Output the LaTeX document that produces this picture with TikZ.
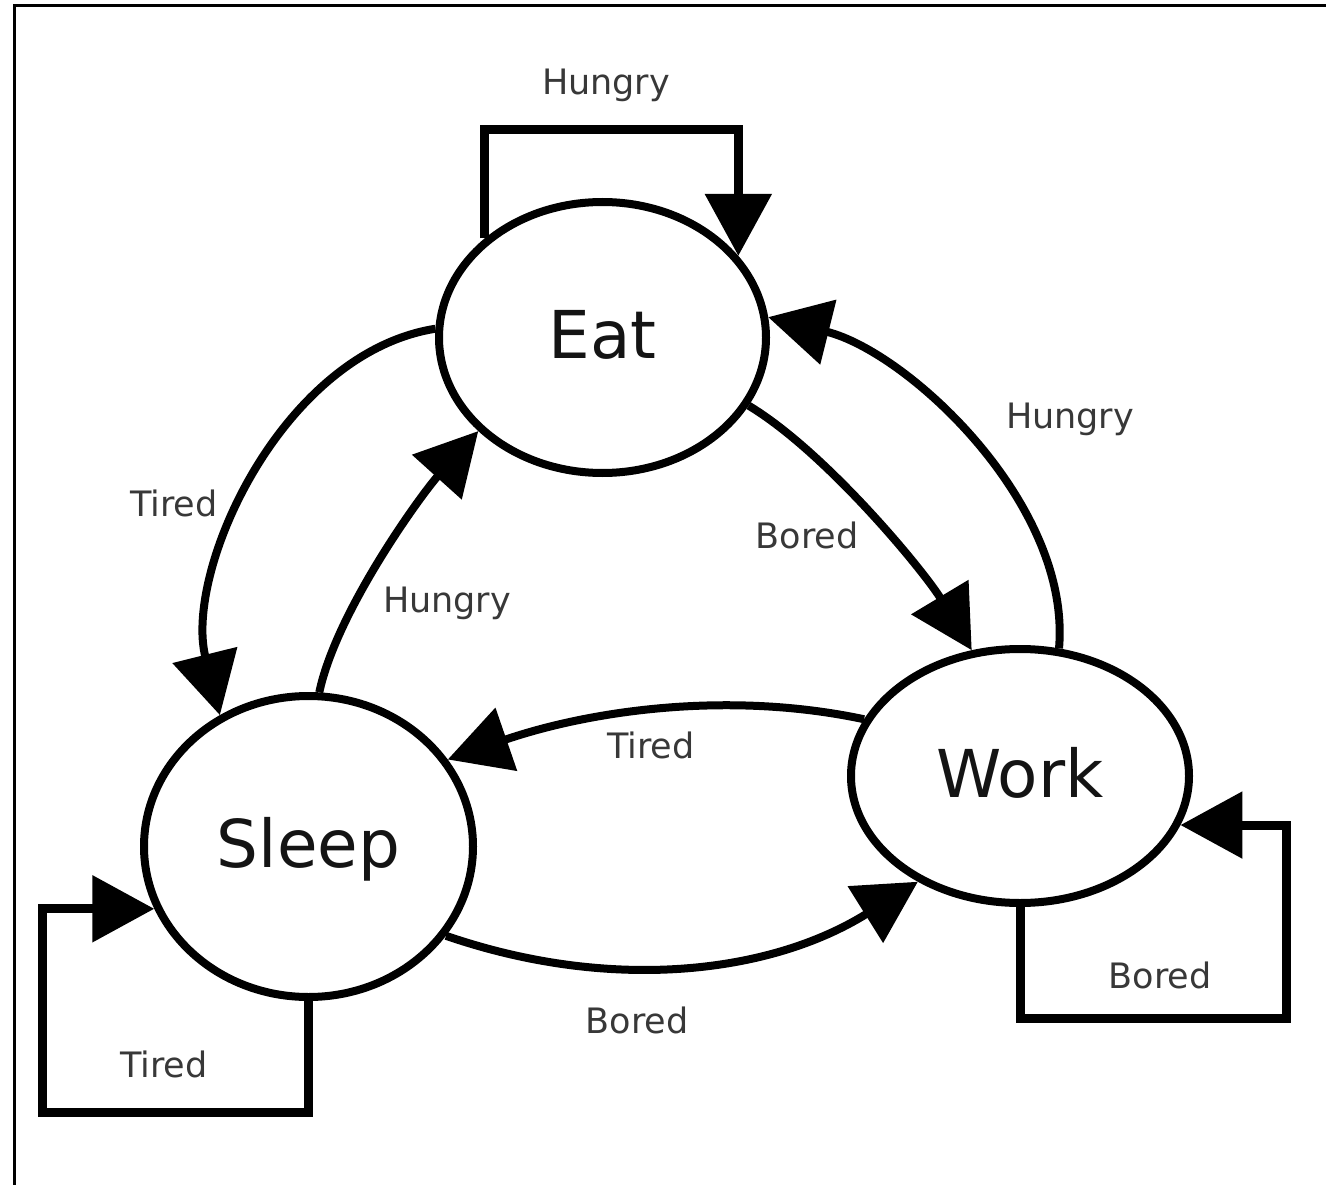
\documentclass[tikz,border=0pt]{standalone}
\usepackage{fontspec}
\setmainfont{DejaVu Sans}
\usetikzlibrary{shapes.geometric,arrows.meta}
\begin{document}
\begin{tikzpicture}[x=1pt,y=1pt,
  state/.style={ellipse,draw=black,line width=8pt,inner sep=0pt,text=black!92,
    font=\fontsize{66}{79}\selectfont,text height=48pt,text depth=6pt},
  lbl/.style={inner sep=0pt,anchor=base,text=black!78,font=\fontsize{35}{42}\selectfont},
  edge/.style={line width=8pt,-{Triangle[length=62pt,width=65pt]}},
  loopedge/.style={edge,line width=9pt,line join=miter}
]
\useasboundingbox (0,0) rectangle (1326,-1185);

% frame (top and left edges only)
\draw[line width=3pt] (14.5,-1185) -- (14.5,-6) -- (1326,-6);

% states
\node[state,minimum width=327pt,minimum height=271pt] (eat)   at (602.5,-337.5) {Eat};
\node[state,minimum width=338pt,minimum height=254pt] (work)  at (1020,-776)    {Work};
\node[state,minimum width=329pt,minimum height=301pt] (sleep) at (308.5,-846.5) {Sleep};

% corners of the self-loops
\coordinate (eatloop)   at (612,-130);
\coordinate (workloop)  at (1286,-1018.5);
\coordinate (sleeploop) at (42,-1112);

% self-loops
\draw[loopedge] (eat.140) |- (eatloop) -| (eat.31);
\draw[loopedge] (work.270) |- (workloop) |- (work.-17);
\draw[loopedge] (sleep.270) |- (sleeploop) |- (sleep.202);

% transitions between states
\draw[edge] (eat.-25)  to[out=-31,in=121,looseness=0.7] (work.111);
\draw[edge] (work.73)  to[out=85,in=-14,looseness=0.84] (eat.7);
\draw[edge] (eat.177)  to[out=189,in=104,out looseness=0.9,in looseness=0.86] (sleep.124);
\draw[edge] (sleep.86) to[out=78,in=228,looseness=0.7] (eat.217);
\draw[edge] (work.160) to[out=168,in=19,looseness=0.88] (sleep.32);
\draw[edge] (sleep.-33) to[out=-19,in=212,looseness=0.94] (work.226);

% transition labels
\node[lbl] (hTop)    at (606,-95)   {Hungry};
\node[lbl] (hRight)  at (1070,-428) {Hungry};
\node[lbl] (bEW)     at (807,-548)  {Bored};
\node[lbl] (tLeft)   at (174,-516)  {Tired};
\node[lbl] (hMid)    at (447,-612)  {Hungry};
\node[lbl] (tMid)    at (651,-758)  {Tired};
\node[lbl] (bBottom) at (637,-1033) {Bored};
\node[lbl] (tLoop)   at (164,-1077) {Tired};
\node[lbl] (bLoop)   at (1160,-988) {Bored};
\end{tikzpicture}
\end{document}
